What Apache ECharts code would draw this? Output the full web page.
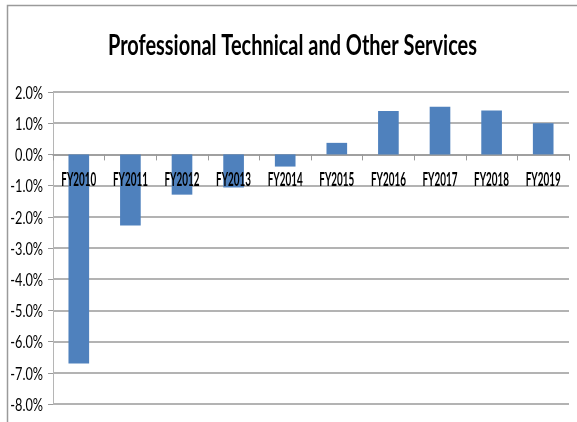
<!DOCTYPE html>
<html>
<head>
<meta charset="utf-8">
<script src="https://cdn.jsdelivr.net/npm/echarts@6/dist/echarts.min.js"></script>
<style>
  html, body { margin: 0; padding: 0; background: #fff; }
  #chart { width: 577px; height: 422px; }
</style>
</head>
<body>
<div id="chart"></div>
<script>
// Fiscal years and year-over-year change (percent)
const categories = ['FY2010', 'FY2011', 'FY2012', 'FY2013', 'FY2014',
                    'FY2015', 'FY2016', 'FY2017', 'FY2018', 'FY2019'];
const changePct = [-6.7, -2.28, -1.29, -1.06, -0.39, 0.37, 1.39, 1.53, 1.41, 1.0];
const yTicks = [2, 1, 0, -1, -2, -3, -4, -5, -6, -7, -8];
const titleText = 'Professional Technical and Other Services';

const FONT = 'Lato, "Open Sans", sans-serif';
const GRID = { left: 53, right: 8, top: 92, bottom: 18 };
const AXIS_GREY = '#9a9a9a';

const chart = echarts.init(document.getElementById('chart'), null, { renderer: 'canvas' });
chart.setOption({
  backgroundColor: '#ffffff',
  animation: false,
  grid: Object.assign({ containLabel: false }, GRID),
  xAxis: {
    type: 'category',
    data: categories,
    axisLine: { onZero: true, lineStyle: { color: AXIS_GREY, width: 1.5 } },
    axisTick: { show: true, interval: 0, alignWithLabel: false, length: 6,
                lineStyle: { color: AXIS_GREY } },
    axisLabel: { show: false },
    splitLine: { show: false }
  },
  yAxis: {
    type: 'value',
    min: -8,
    max: 2,
    interval: 1,
    axisLine: { show: true, lineStyle: { color: '#b5b5b5', width: 1 } },
    axisTick: { show: true, length: 5, lineStyle: { color: AXIS_GREY } },
    axisLabel: { show: false },
    splitLine: { show: true, lineStyle: { color: AXIS_GREY, width: 1.5 } }
  },
  series: [{
    type: 'bar',
    data: changePct,
    barWidth: '40%',
    itemStyle: { color: '#4f81bd' }
  }]
});

// Condensed text: measure the natural width and squeeze horizontally.
const measureCtx = document.createElement('canvas').getContext('2d');
function squeeze(sample, weight, size, targetWidth) {
  measureCtx.font = weight + ' ' + size + 'px ' + FONT;
  return targetWidth / measureCtx.measureText(sample).width;
}
function condensedText(text, x, y, opts) {
  return {
    type: 'text', x: x, y: y, scaleX: opts.scale, scaleY: 1, silent: true, z: 100,
    style: {
      text: text, x: 0, y: 0,
      font: opts.weight + ' ' + opts.size + 'px ' + FONT,
      fontFamily: FONT, fontSize: opts.size, fontWeight: opts.weight,
      fill: '#000', textAlign: opts.align, textVerticalAlign: 'middle', verticalAlign: 'middle'
    }
  };
}

const graphics = [{
  type: 'polyline',
  shape: { points: [[7.5, 430], [7.5, 5.5], [590, 5.5]] },
  style: { stroke: AXIS_GREY, lineWidth: 1.5, fill: null },
  silent: true
}];

// Title
const titleSize = 29;
graphics.push(condensedText(titleText, 577 / 2 + 4, 46, {
  weight: 'bold', size: titleSize, align: 'center',
  scale: squeeze(titleText, 'bold', titleSize, 369)
}));

// Category labels sit just under the zero line
const catSize = 18;
const catScale = squeeze('FY2010', 'bold', catSize, 35);
categories.forEach(function (c) {
  const p = chart.convertToPixel({ gridIndex: 0 }, [c, 0]);
  graphics.push(condensedText(c, p[0], p[1] + 25.5, {
    weight: 'bold', size: catSize, align: 'center', scale: catScale
  }));
});

// Value-axis labels
const valSize = 18;
const valScale = squeeze('2.0%', 'normal', valSize, 28);
yTicks.forEach(function (v) {
  const py = chart.convertToPixel({ yAxisIndex: 0 }, v);
  graphics.push(condensedText(v.toFixed(1) + '%', GRID.left - 10, py + 1, {
    weight: 'normal', size: valSize, align: 'right', scale: valScale
  }));
});

chart.setOption({ graphic: graphics });
</script>
</body>
</html>
